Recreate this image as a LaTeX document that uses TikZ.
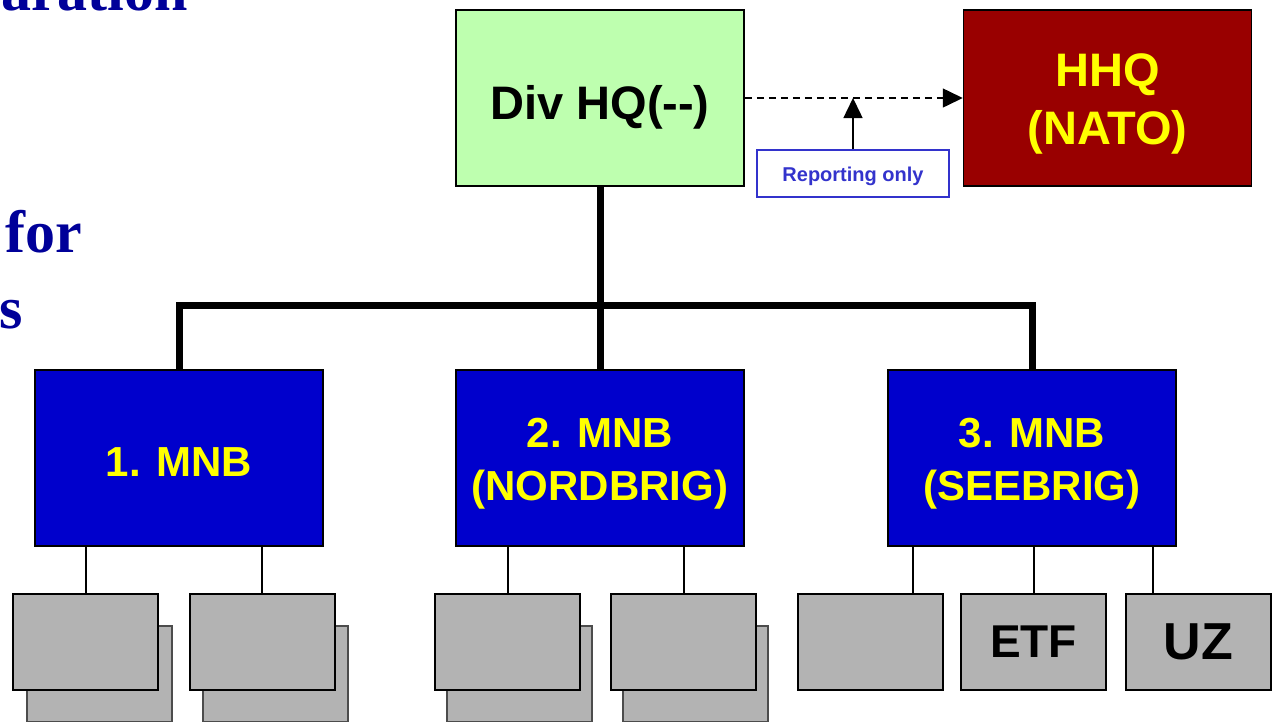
\documentclass[tikz,border=0pt]{standalone}
\usepackage{fontspec}
\setmainfont{Liberation Sans}
\newfontfamily\titlefont{Liberation Serif}
\usetikzlibrary{arrows.meta}
\definecolor{divgreen}{RGB}{190,255,175}
\definecolor{hhqred}{RGB}{153,0,0}
\definecolor{mnbblue}{RGB}{0,0,204}
\definecolor{txtyellow}{RGB}{255,255,0}
\definecolor{repblue}{RGB}{51,51,204}
\definecolor{subgray}{RGB}{179,179,179}
\definecolor{titleblue}{RGB}{0,0,153}
\tikzset{
  bigbox/.style={draw=black, line width=1.5pt, minimum width=288pt, minimum height=176pt, inner sep=0pt},
  boxtext/.style={align=center, inner sep=0pt, yshift=-6pt},
  mnbbox/.style={bigbox, fill=mnbblue},
  mnbtext/.style={boxtext, text=txtyellow, font=\bfseries\fontsize{42}{53}\selectfont},
  subbox/.style={draw=black, line width=2pt, fill=subgray, minimum width=145pt, minimum height=96pt, inner sep=0pt, font=\bfseries\fontsize{46}{50}\selectfont},
  backbox/.style={draw=black!70, line width=1.2pt, fill=subgray, minimum width=145pt, minimum height=96pt, inner sep=0pt},
  treeline/.style={line width=7pt, line join=miter},
  thinline/.style={line width=2pt},
  titletext/.style={text=titleblue, font=\titlefont\bfseries\fontsize{60}{76}\selectfont, inner sep=0pt}
}
\begin{document}
\begin{tikzpicture}[x=1pt,y=-1pt]
\useasboundingbox (0,0) rectangle (1276,721);
\clip (0,0) rectangle (1276,721);
% title fragments
\node[titletext, anchor=base east] (t1) at (188,10) {aration};
\node[titletext, anchor=base west] (t2) at (5,252) {for};
\node[titletext, anchor=base east] (t3) at (23,328) {s};
% top boxes
\node[bigbox, fill=divgreen, label={[boxtext, yshift=-3pt, font=\bfseries\fontsize{47}{58}\selectfont]center:{Div HQ(-{}-)}}] (div) at (600,98) {};
\node[bigbox, fill=hhqred, label={[boxtext, text=txtyellow, font=\bfseries\fontsize{47}{58}\selectfont]center:{HHQ\\(NATO)}}] (hhq) at (1107.5,98) {};
\node[draw=repblue, line width=1.5pt, minimum width=192pt, minimum height=47pt, inner sep=0pt, label={[inner sep=0pt, yshift=-3pt, text=repblue, font=\bfseries\fontsize{20}{24}\selectfont]center:Reporting only}] (rep) at (853,173.5) {};
\draw[line width=1.5pt, dash pattern=on 7pt off 5pt, -{Triangle[length=20pt,width=19pt]}] (div.east) -- (hhq.west);
\draw[line width=1.5pt, -{Triangle[length=20pt,width=19pt]}] (rep.north) -- (rep.north |- div.east);
% MNB boxes
\node[mnbbox, label={[mnbtext, yshift=2pt]center:{1. MNB}}] (m1) at (179,458) {};
\node[mnbbox, label={[mnbtext]center:{2. MNB\\(NORDBRIG)}}] (m2) at (600,458) {};
\node[mnbbox, label={[mnbtext]center:{3. MNB\\(SEEBRIG)}}] (m3) at (1032,458) {};
\coordinate (bar) at (600,305);
\draw[treeline] (div.south) -- (m2.north);
\draw[treeline] (m1.north) -- (m1.north |- bar) -- (m3.north |- bar) -- (m3.north);
% sub boxes 1. MNB
\node[backbox] (b11) at (99.5,674) {};
\node[subbox] (s11) at (85.5,642) {};
\node[backbox] (b12) at (275.5,674) {};
\node[subbox] (s12) at (262,642) {};
% sub boxes 2. MNB
\node[backbox] (b21) at (519.5,674) {};
\node[subbox] (s21) at (507.5,642) {};
\node[backbox] (b22) at (695.5,674) {};
\node[subbox] (s22) at (683.5,642) {};
% sub boxes 3. MNB
\node[subbox] (s31) at (870.5,642) {};
\node[subbox] (s32) at (1033.5,642) {ETF};
\node[subbox, font=\bfseries\fontsize{52}{56}\selectfont] (s33) at (1198.5,642) {UZ};
% connectors
\draw[thinline] (s11.north |- m1.south) -- (s11.north);
\draw[thinline] (s12.north |- m1.south) -- (s12.north);
\draw[thinline] (s21.north |- m2.south) -- (s21.north);
\draw[thinline] (s22.north |- m2.south) -- (s22.north);
\draw[thinline] (m3.south -| 913,0) -- (s31.north -| 913,0);
\draw[thinline] (s32.north |- m3.south) -- (s32.north);
\draw[thinline] (m3.south -| 1153,0) -- (s33.north -| 1153,0);
\end{tikzpicture}
\end{document}
